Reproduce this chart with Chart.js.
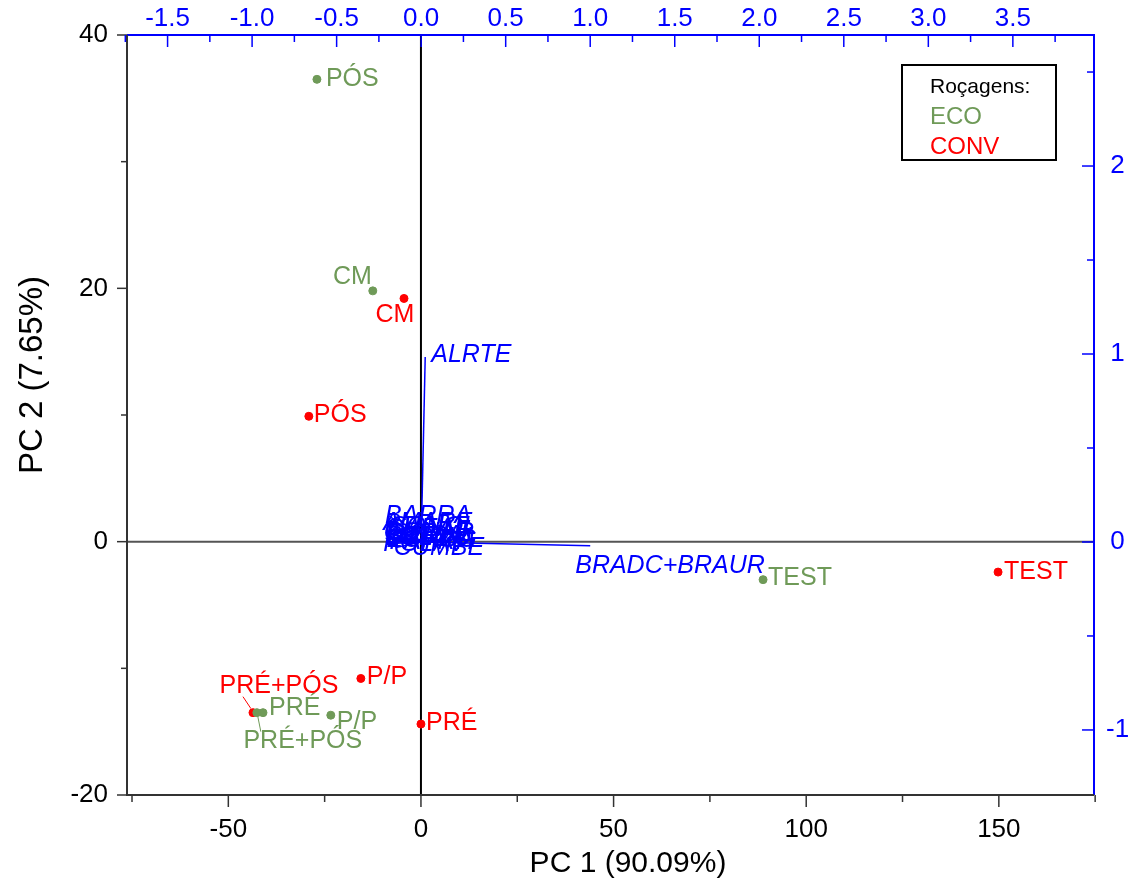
<!DOCTYPE html>
<html>
<head>
<meta charset="utf-8">
<script src="https://cdn.jsdelivr.net/npm/chart.js@4"></script>
<style>
  body { margin: 0; background: #fff; }
  #wrap { width: 1132px; height: 892px; }
</style>
</head>
<body>
<div id="wrap"><canvas id="pcaChart" width="1132" height="892"></canvas></div>
<script>
// scores (PC1 / PC2) for each roçagem treatment
const ecoNames = ['PÓS', 'CM', 'PRÉ', 'P/P', 'PRÉ+PÓS', 'TEST'];
const ecoPC1 = [-27.0, -12.5, -41.0, -23.4, -42.6, 88.8];
const ecoPC2 = [36.5, 19.8, -13.5, -13.7, -13.5, -3.0];

const convNames = ['PÓS', 'CM', 'P/P', 'PRÉ', 'PRÉ+PÓS', 'TEST'];
const convPC1 = [-29.1, -4.4, -15.6, 0.0, -43.6, 149.8];
const convPC2 = [9.9, 19.2, -10.8, -14.4, -13.5, -2.4];

// loadings (top / right axes)
const loadNames = ['ALRTE', 'BRADC+BRAUR', 'BARRA', 'AMARE', 'CHEAL', 'CONAR', 'DIGSA', 'ECHCG', 'SOLNI', 'POLAV', 'SONOL', 'LOLMU', 'PAPRH', 'CUMBE'];
const loadX = [0.024, 1.0, -0.19, -0.20, -0.18, -0.21, -0.19, -0.17, -0.16, -0.20, -0.18, -0.21, -0.17, -0.15];
const loadY = [0.984, -0.02, 0.14, 0.10, 0.07, 0.05, 0.03, 0.01, 0.04, -0.01, 0.08, 0.02, 0.00, -0.03];

// tick labels
const x1Ticks = [-50, 0, 50, 100, 150];
const y1Ticks = [-20, 0, 20, 40];
const x2Ticks = [-1.5, -1.0, -0.5, 0.0, 0.5, 1.0, 1.5, 2.0, 2.5, 3.0, 3.5];
const y2Ticks = [-1, 0, 1, 2];

const GREEN = '#6f9a58';
const RED = '#ff0000';
const BLUE = '#0000ff';
const FONT = '"Liberation Sans", Arial, sans-serif';

// label placement (pixel offsets from the point), leader lines where Origin drew them
const ecoLabelPos = [
  { dx: 9, dy: 0, align: 'left' },
  { dx: -1, dy: -14, align: 'right' },
  { dx: 6, dy: -5, align: 'left' },
  { dx: 6, dy: 7, align: 'left' },
  { dx: 46, dy: 28, align: 'center', lead: [1, 4, 4, 19] },
  { dx: 5, dy: -2, align: 'left' }
];
const convLabelPos = [
  { dx: 5, dy: -1, align: 'left' },
  { dx: -9, dy: 17, align: 'center' },
  { dx: 6, dy: -1, align: 'left' },
  { dx: 5, dy: -1, align: 'left' },
  { dx: 26, dy: -27, align: 'center', lead: [-2, -4, -10, -16] },
  { dx: 6, dy: 0, align: 'left' }
];
const loadLabelPos = [
  { dx: 6, dy: -2 }, { dx: -15, dy: 20 },
  { dx: -4, dy: 0 }, { dx: -4, dy: 0 }, { dx: -6, dy: 0 }, { dx: -2, dy: 0 },
  { dx: -4, dy: 0 }, { dx: -6, dy: 0 }, { dx: -2, dy: 0 }, { dx: -4, dy: 0 },
  { dx: -1, dy: 0 }, { dx: 0, dy: 0 }, { dx: -3, dy: 0 }, { dx: -2, dy: 0 }
];

function toPoints(xs, ys) {
  return xs.map((v, i) => ({ x: v, y: ys[i] }));
}

const loadingSets = loadNames.map((name, i) => ({
  type: 'line',
  label: name,
  data: [{ x: 0, y: 0 }, { x: loadX[i], y: loadY[i] }],
  xAxisID: 'x2',
  yAxisID: 'y2',
  borderColor: BLUE,
  borderWidth: 1.5,
  pointRadius: 0,
  fill: false,
  order: 0
}));

function drawTicks(ctx, scale, values, horizontal, base, len, dir, color) {
  ctx.strokeStyle = color;
  ctx.lineWidth = 1.5;
  values.forEach(v => {
    const p = scale.getPixelForValue(v);
    ctx.beginPath();
    if (horizontal) { ctx.moveTo(p, base); ctx.lineTo(p, base + dir * len); }
    else { ctx.moveTo(base, p); ctx.lineTo(base + dir * len, p); }
    ctx.stroke();
  });
}

const framePlugin = {
  id: 'frame',
  beforeDatasetsDraw(chart) {
    const { ctx, chartArea: a, scales } = chart;
    ctx.save();
    // zero lines
    const x0 = scales.x.getPixelForValue(0);
    const y0 = scales.y.getPixelForValue(0);
    ctx.lineWidth = 2;
    ctx.strokeStyle = '#555';
    ctx.beginPath(); ctx.moveTo(a.left, y0); ctx.lineTo(a.right, y0); ctx.stroke();
    ctx.strokeStyle = '#000';
    ctx.beginPath(); ctx.moveTo(x0, a.top); ctx.lineTo(x0, a.bottom); ctx.stroke();
    ctx.restore();
  },
  afterDatasetsDraw(chart) {
    const { ctx, chartArea: a, scales } = chart;
    ctx.save();
    // axis lines
    ctx.lineWidth = 2;
    ctx.strokeStyle = BLUE;
    ctx.beginPath(); ctx.moveTo(a.left, a.top); ctx.lineTo(a.right, a.top); ctx.lineTo(a.right, a.bottom); ctx.stroke();
    ctx.strokeStyle = '#333';
    ctx.beginPath(); ctx.moveTo(a.left, a.top); ctx.lineTo(a.left, a.bottom); ctx.lineTo(a.right, a.bottom); ctx.stroke();

    // ticks: left / bottom outward, top / right inward
    drawTicks(ctx, scales.y, y1Ticks, false, a.left, 10, -1, '#333');
    drawTicks(ctx, scales.y, [-10, 10, 30], false, a.left, 6, -1, '#333');
    drawTicks(ctx, scales.x, x1Ticks, true, a.bottom, 12, 1, '#333');
    drawTicks(ctx, scales.x, [-75, -25, 25, 75, 125, 175], true, a.bottom, 7, 1, '#333');
    drawTicks(ctx, scales.x2, x2Ticks, true, a.top, 12, 1, BLUE);
    drawTicks(ctx, scales.x2, [-1.75, -1.25, -0.75, -0.25, 0.25, 0.75, 1.25, 1.75, 2.25, 2.75, 3.25, 3.75], true, a.top, 7, 1, BLUE);
    drawTicks(ctx, scales.y2, y2Ticks, false, a.right, 12, -1, BLUE);
    drawTicks(ctx, scales.y2, [-0.5, 0.5, 1.5, 2.5], false, a.right, 7, -1, BLUE);

    // score labels
    ctx.font = '25px ' + FONT;
    ctx.textBaseline = 'middle';
    [[0, ecoNames, ecoLabelPos, GREEN], [1, convNames, convLabelPos, RED]].forEach(([di, names, pos, col]) => {
      const meta = chart.getDatasetMeta(di);
      meta.data.forEach((pt, i) => {
        const o = pos[i];
        ctx.fillStyle = col;
        ctx.strokeStyle = col;
        ctx.textAlign = o.align;
        ctx.fillText(names[i], pt.x + o.dx, pt.y + o.dy);
        if (o.lead) {
          ctx.lineWidth = 1;
          ctx.beginPath();
          ctx.moveTo(pt.x + o.lead[0], pt.y + o.lead[1]);
          ctx.lineTo(pt.x + o.lead[2], pt.y + o.lead[3]);
          ctx.stroke();
        }
      });
    });

    // loading labels
    ctx.font = 'italic 25px ' + FONT;
    ctx.fillStyle = BLUE;
    ctx.textAlign = 'left';
    loadNames.forEach((name, i) => {
      const px = scales.x2.getPixelForValue(loadX[i]);
      const py = scales.y2.getPixelForValue(loadY[i]);
      ctx.fillText(name, px + loadLabelPos[i].dx, py + loadLabelPos[i].dy);
    });

    // legend box
    const lx = a.right - 192, ly = a.top + 30;
    ctx.lineWidth = 2;
    ctx.strokeStyle = '#000';
    ctx.strokeRect(lx, ly, 154, 95);
    ctx.font = '21px ' + FONT;
    ctx.fillStyle = '#000';
    ctx.fillText('Roçagens:', lx + 28, ly + 22);
    ctx.font = '24px ' + FONT;
    ctx.fillStyle = GREEN;
    ctx.fillText('ECO', lx + 28, ly + 52);
    ctx.fillStyle = RED;
    ctx.fillText('CONV', lx + 28, ly + 82);

    // axis titles
    ctx.font = '30px ' + FONT;
    ctx.fillStyle = '#000';
    ctx.textAlign = 'center';
    ctx.fillText('PC 1 (90.09%)', 628, 864);
    ctx.font = '33px ' + FONT;
    ctx.translate(33, 375);
    ctx.rotate(-Math.PI / 2);
    ctx.fillText('PC 2 (7.65%)', 0, 0);
    ctx.restore();
  }
};

const ctx = document.getElementById('pcaChart').getContext('2d');

new Chart(ctx, {
  type: 'scatter',
  data: {
    datasets: [
      {
        label: 'ECO',
        data: toPoints(ecoPC1, ecoPC2),
        backgroundColor: GREEN,
        borderColor: GREEN,
        pointRadius: 4,
        order: 1
      },
      {
        label: 'CONV',
        data: toPoints(convPC1, convPC2),
        backgroundColor: RED,
        borderColor: RED,
        pointRadius: 4,
        order: 1
      }
    ].concat(loadingSets)
  },
  options: {
    responsive: false,
    animation: false,
    layout: { padding: 0 },
    plugins: {
      legend: { display: false },
      tooltip: { enabled: false }
    },
    scales: {
      x: {
        type: 'linear', position: 'bottom', min: -76.3, max: 174.7,
        afterBuildTicks: s => { s.ticks = x1Ticks.map(v => ({ value: v })); },
        ticks: { color: '#000', font: { size: 26, family: FONT }, padding: 11 },
        grid: { display: false }, border: { display: false },
        afterFit: s => { s.height = 97; }
      },
      y: {
        type: 'linear', position: 'left', min: -20, max: 40,
        afterBuildTicks: s => { s.ticks = y1Ticks.map(v => ({ value: v })); },
        ticks: { color: '#000', font: { size: 26, family: FONT }, padding: 11 },
        grid: { display: false }, border: { display: false },
        afterFit: s => { s.width = 127; }
      },
      x2: {
        type: 'linear', position: 'top', min: -1.74, max: 3.98,
        afterBuildTicks: s => { s.ticks = x2Ticks.map(v => ({ value: v })); },
        ticks: { color: BLUE, font: { size: 26, family: FONT }, padding: -7, callback: v => v.toFixed(1) },
        grid: { display: false }, border: { display: false },
        afterFit: s => { s.height = 35; }
      },
      y2: {
        type: 'linear', position: 'right', min: -1.346, max: 2.697,
        afterBuildTicks: s => { s.ticks = y2Ticks.map(v => ({ value: v })); },
        ticks: { color: BLUE, font: { size: 26, family: FONT }, padding: 4, crossAlign: 'center' },
        grid: { display: false }, border: { display: false },
        afterFit: s => { s.width = 38; }
      }
    }
  },
  plugins: [framePlugin]
});
</script>
</body>
</html>
